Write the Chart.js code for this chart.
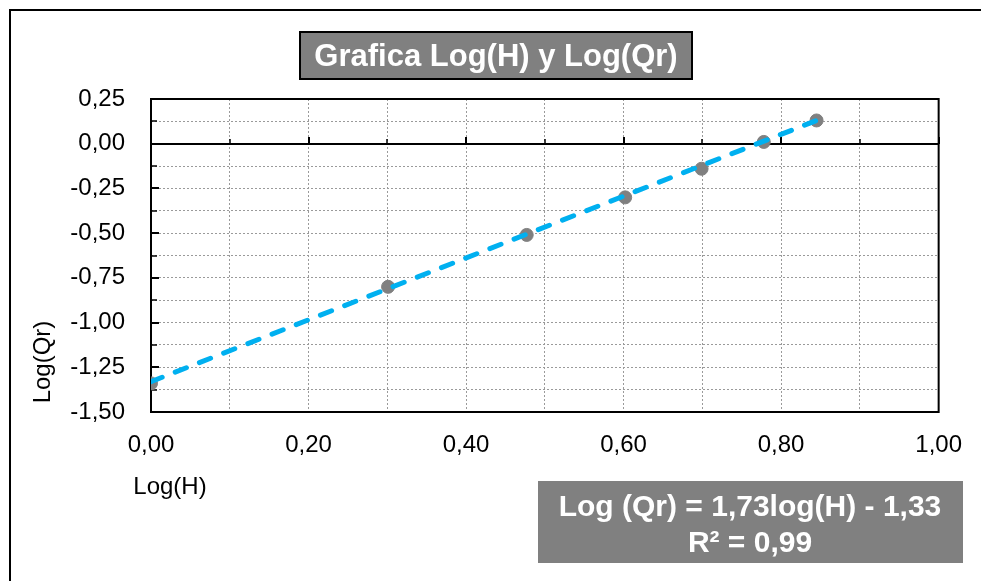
<!DOCTYPE html>
<html>
<head>
<meta charset="utf-8">
<script src="https://cdn.jsdelivr.net/npm/chart.js@4.4.1/dist/chart.umd.min.js"></script>
<style>
  html, body { margin: 0; padding: 0; background: #fff; }
  canvas { display: block; }
</style>
</head>
<body>
<canvas id="grafica" width="981" height="581"></canvas>
<script>
// valores
const logH = [0, 0.301, 0.477, 0.602, 0.699, 0.778, 0.845]
const logQr = [-1.34, -0.80, -0.51, -0.30, -0.14, 0.01, 0.13]
// linea de tendencia (extremos)
const trendH = [0, 0.845]
const trendQr = [-1.33, 0.13]

const xTickLabels = ['0,00', '0,20', '0,40', '0,60', '0,80', '1,00']
const yTickLabels = ['-1,50', '-1,25', '-1,00', '-0,75', '-0,50', '-0,25', '0,00', '0,25']

const titleText = 'Grafica Log(H) y Log(Qr)'
const eqLines = ['Log (Qr) = 1,73log(H) - 1,33', 'R² = 0,99']

const FONT = '"Liberation Sans", Arial, sans-serif'

const toPoints = (xs, ys) => xs.map((x, i) => ({x: x, y: ys[i]}))

const decor = {
    id: 'decor',
    beforeDraw(chart){
        const ctx = chart.ctx
        ctx.save()
        ctx.fillStyle = '#fff'
        ctx.fillRect(0, 0, chart.width, chart.height)
        ctx.restore()
    },
    beforeDatasetsDraw(chart){
        const {ctx, chartArea: a, scales: {x, y}} = chart
        ctx.save()
        // eje horizontal en y = 0
        const y0 = Math.round(y.getPixelForValue(0))
        ctx.strokeStyle = '#000'
        ctx.lineWidth = 2
        ctx.beginPath()
        ctx.moveTo(a.left, y0)
        ctx.lineTo(a.right, y0)
        ctx.stroke()
        // marcas sobre el eje y = 0
        x.ticks.forEach((t, i) => {
            const px = Math.round(x.getPixelForValue(t.value))
            ctx.lineWidth = i % 2 === 0 ? 2 : 1.5
            ctx.beginPath()
            ctx.moveTo(px, y0)
            ctx.lineTo(px, y0 - (i % 2 === 0 ? 7 : 5))
            ctx.stroke()
        })
        // marcas del eje vertical (hacia dentro)
        y.ticks.forEach((t, i) => {
            const py = Math.round(y.getPixelForValue(t.value))
            ctx.lineWidth = i % 2 === 0 ? 2 : 1.5
            ctx.beginPath()
            ctx.moveTo(a.left, py)
            ctx.lineTo(a.left + (i % 2 === 0 ? 8 : 6), py)
            ctx.stroke()
        })
        // marco del area de trazado
        ctx.lineWidth = 2
        ctx.strokeRect(a.left, a.top, a.right - a.left, a.bottom - a.top)
        ctx.restore()
    },
    afterDraw(chart){
        const ctx = chart.ctx
        ctx.save()
        // marco exterior (solo izquierda y arriba quedan visibles)
        ctx.strokeStyle = '#000'
        ctx.lineWidth = 2
        ctx.strokeRect(10, 10, 1000, 600)

        // titulo
        ctx.fillStyle = '#808080'
        ctx.fillRect(300, 32, 392, 47)
        ctx.lineWidth = 2
        ctx.strokeRect(300, 32, 392, 47)
        ctx.fillStyle = '#fff'
        ctx.font = 'bold 31px ' + FONT
        ctx.textAlign = 'center'
        ctx.textBaseline = 'middle'
        ctx.fillText(titleText, 496, 57)

        // ecuacion de la recta
        ctx.fillStyle = '#808080'
        ctx.fillRect(538, 481, 425, 82)
        ctx.fillStyle = '#fff'
        ctx.font = 'bold 30px ' + FONT
        ctx.fillText(eqLines[0], 750, 508)
        ctx.fillText(eqLines[1], 750, 544)

        // titulos de ejes
        ctx.fillStyle = '#000'
        ctx.font = '24px ' + FONT
        ctx.fillText('Log(H)', 170, 487)
        ctx.translate(43, 362)
        ctx.rotate(-Math.PI / 2)
        ctx.fillText('Log(Qr)', 0, 0)
        ctx.restore()
    }
}

new Chart(document.querySelector('#grafica'), {
    type: 'scatter',
    data: {
        datasets: [
            {
                label: 'Tendencia',
                data: toPoints(trendH, trendQr),
                showLine: true,
                borderColor: '#00B0F0',
                borderWidth: 5,
                borderDash: [12, 14],
                borderCapStyle: 'round',
                pointRadius: 0,
                order: 0
            },
            {
                label: 'Log(Qr)',
                data: toPoints(logH, logQr),
                backgroundColor: '#808080',
                borderColor: '#808080',
                pointRadius: 6.5,
                order: 1
            }
        ]
    },
    options: {
        responsive: false,
        animation: false,
        events: [],
        layout: {padding: {left: 0, top: 99, right: 39, bottom: 109}},
        plugins: {legend: {display: false}, tooltip: {enabled: false}, title: {display: false}},
        scales: {
            x: {
                type: 'linear',
                min: 0,
                max: 1,
                afterFit: s => { s.height = 60 },
                ticks: {
                    stepSize: 0.1,
                    autoSkip: false,
                    maxRotation: 0,
                    padding: 19,
                    color: '#000',
                    font: {family: FONT, size: 24},
                    callback: (v, i) => i % 2 === 0 ? xTickLabels[i / 2] : ''
                },
                grid: {color: '#9a9a9a', lineWidth: 1, drawTicks: false},
                border: {display: false, dash: [2, 2]}
            },
            y: {
                type: 'linear',
                min: -1.5,
                max: 0.25,
                afterFit: s => { s.width = 151 },
                ticks: {
                    stepSize: 0.125,
                    autoSkip: false,
                    padding: 26,
                    color: '#000',
                    font: {family: FONT, size: 24},
                    callback: (v, i) => i % 2 === 0 ? yTickLabels[i / 2] : ''
                },
                grid: {color: '#9a9a9a', lineWidth: 1, drawTicks: false},
                border: {display: false, dash: [2, 2]}
            }
        }
    },
    plugins: [decor]
})
</script>
</body>
</html>
